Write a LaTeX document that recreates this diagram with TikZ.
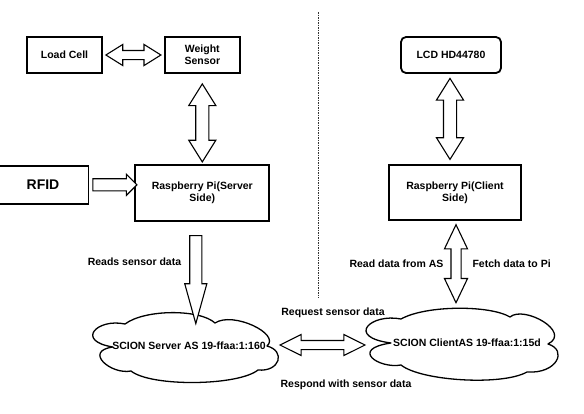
\documentclass[tikz,border=0pt]{standalone}
\usepackage{fontspec}
\setmainfont{Liberation Sans}
\usetikzlibrary{positioning,calc,shapes.arrows}

\tikzset{
  box/.style={draw, line width=1.8pt, align=center, inner sep=2pt,
    font=\bfseries\fontsize{10.5}{12}\selectfont},
  lbl/.style={font=\bfseries\fontsize{10.5}{12}\selectfont},
  dbl/.style={double arrow, draw, line width=1.1pt, fill=white, minimum width=0pt},
  sgl/.style={single arrow, draw, line width=1.1pt, fill=white, minimum width=0pt},
  cloudline/.style={draw, line width=1.3pt, line join=round}
}

\begin{document}
\begin{tikzpicture}[x=1pt,y=-1pt]

\useasboundingbox (0,0) rectangle (584,413);

% server side
\node[box, minimum width=75pt, minimum height=36pt] (lc) at (64.5,55) {Load Cell};

\node[box, minimum width=75pt, minimum height=36pt, right=61pt of lc] (ws) {Weight\\Sensor};

\node[box, minimum width=134pt, minimum height=56pt, below=90pt of ws] (srvpi) {Raspberry Pi(Server\\Side)};

\node[box, minimum width=91pt, minimum height=38pt, left=45pt of srvpi, yshift=8pt,
  font=\bfseries\fontsize{14}{16}\selectfont] (rfid) {RFID};

% server AS cloud
\draw[cloudline] (267,346)
  .. controls (281,334) and (233,311) .. (215,323)
  .. controls (200,309) and (145,309) .. (125,324)
  .. controls (97,318) and (75,341) .. (113,347)
  .. controls (83,351) and (111,375) .. (131,371)
  .. controls (151,387) and (238,386) .. (258,370)
  .. controls (280,372) and (286,351) .. (267,346) -- cycle;
\node[lbl] (srvas) at (189,346) {SCION Server AS 19-ffaa:1:160};

% client side
\node[box, rounded corners=5pt, minimum width=100pt, minimum height=36pt] (lcd) at (451,55) {LCD HD44780};

\node[box, minimum width=132pt, minimum height=55pt, below=90pt of lcd, xshift=4pt] (clipi) {Raspberry Pi(Client\\Side)};

% client AS cloud
\draw[cloudline] (548,344)
  .. controls (572,332) and (524,305) .. (510,317)
  .. controls (490,305) and (426,305) .. (401,319)
  .. controls (371,313) and (345,337) .. (391,343)
  .. controls (349,349) and (379,369) .. (401,365)
  .. controls (421,381) and (502,386) .. (527,372)
  .. controls (557,374) and (568,350) .. (548,344) -- cycle;
\node[lbl] (clias) at (467,343) {SCION ClientAS 19-ffaa:1:15d};

% divider
\coordinate (divtop) at (318,12);
\coordinate (divbot) at (318,298);
\draw[gray!40!black, line width=0.7pt, dash pattern=on 1.5pt off 1pt] (divtop) -- (divbot);

% arrows
\node[dbl, inner sep=4pt, double arrow head extend=6pt, double arrow tip angle=64,
  minimum height=55pt] (lcws) at ($(lc.east)!0.5!(ws.west)$) {};

\node[dbl, rotate=90, inner sep=6pt, double arrow head extend=7pt, double arrow tip angle=64,
  minimum height=78pt, xshift=-4pt] (wspi) at ($(ws.south)!0.5!(srvpi.north)$) {};

\node[sgl, inner sep=5.5pt, single arrow head extend=4.5pt, single arrow tip angle=90,
  minimum height=44pt] (rfpi) at ($(rfid.east)!0.5!(rfid.east -| srvpi.west)$) {};

\node[sgl, rotate=-90, inner sep=5.5pt, single arrow head extend=5pt, single arrow tip angle=31,
  minimum height=88pt] (piup) at ($(srvpi.south)+(-6.5,47)$) {};

\node[dbl, rotate=90, inner sep=6pt, double arrow head extend=7pt, double arrow tip angle=64,
  minimum height=81pt] (lcdpi) at ($(lcd.south)!0.5!(lcd.south |- clipi.north)+(-1,0)$) {};

\node[dbl, rotate=90, inner sep=4.5pt, double arrow head extend=6.5pt, double arrow tip angle=51,
  minimum height=78pt] (pias) at ($(clipi.south)+(1,43)$) {};

\node[dbl, inner sep=4pt, double arrow head extend=6pt, double arrow tip angle=53,
  minimum height=85pt] (asas) at (322.5,345) {};

% labels
\node[lbl] (rdsens) at (134.5,262) {Reads sensor data};
\node[lbl, anchor=east] (rdas) at (447,264) {Read data from AS};
\node[lbl, anchor=west] (ftpi) at (469,264) {Fetch data to Pi};
\node[lbl] (reqs) at (333,313) {Request sensor data};
\node[lbl] (resps) at (346,385) {Respond with sensor data};

\end{tikzpicture}
\end{document}
